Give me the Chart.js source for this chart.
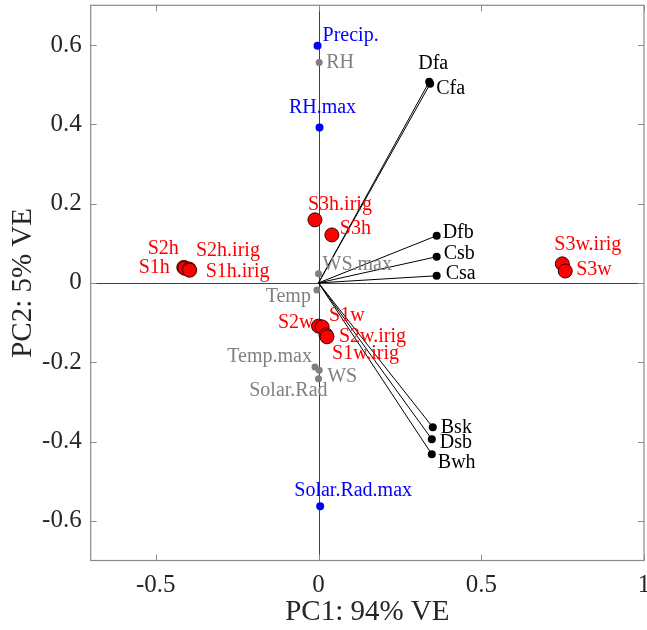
<!DOCTYPE html>
<html>
<head>
<meta charset="utf-8">
<script src="https://cdn.jsdelivr.net/npm/chart.js@4.4.1/dist/chart.umd.min.js"></script>
<style>
  html, body { margin: 0; padding: 0; background: #fff; }
  #wrap { width: 647px; height: 630px; }
</style>
</head>
<body>
<div id="wrap"><canvas id="pca"></canvas></div>
<script>
// tick values
var xTicks = [-0.5, 0, 0.5, 1];
var yTicks = [-0.6, -0.4, -0.2, 0, 0.2, 0.4, 0.6];

// scenarios (red)
var redNames = ['S3h.irig', 'S3h', 'S2h', 'S1h', 'S2h.irig', 'S1h.irig', 'S2w', 'S1w', 'S1w.irig', 'S2w.irig', 'S3w.irig', 'S3w'];
var redX = [-0.011, 0.041, -0.414, -0.411, -0.398, -0.396, 0.0, 0.011, 0.023, 0.026, 0.749, 0.758];
var redY = [0.159, 0.121, 0.039, 0.037, 0.035, 0.032, -0.109, -0.111, -0.131, -0.136, 0.048, 0.030];

// climate classes (black, with vectors)
var blackNames = ['Dfa', 'Cfa', 'Dfb', 'Csb', 'Csa', 'Bsk', 'Dsb', 'Bwh'];
var blackX = [0.340, 0.343, 0.363, 0.363, 0.363, 0.351, 0.348, 0.348];
var blackY = [0.507, 0.502, 0.119, 0.066, 0.018, -0.364, -0.394, -0.432];

// climate variables (gray)
var grayNames = ['RH', 'WS.max', 'Temp', 'Temp.max', 'WS', 'Solar.Rad'];
var grayX = [0.002, 0.0, -0.005, -0.011, 0.002, 0.0];
var grayY = [0.556, 0.023, -0.018, -0.212, -0.220, -0.242];

// climate variables (blue)
var blueNames = ['Precip.', 'RH.max', 'Solar.Rad.max'];
var blueX = [-0.003, 0.003, 0.005];
var blueY = [0.598, 0.392, -0.563];

// label placement: [align, dx, dy] in pixels
var labelPlace = {
    'Precip.': ['left', 5, -10], 'RH': ['left', 7, 0], 'RH.max': ['center', 3, -20],
    'Dfa': ['center', 4, -18], 'Cfa': ['left', 6, 5], 'Dfb': ['left', 6, -3],
    'Csb': ['left', 7, -3], 'Csa': ['left', 9, -2], 'WS.max': ['left', 4, -9],
    'Temp': ['right', -6, 7], 'S3h.irig': ['center', 25, -15], 'S3h': ['left', 8, -6],
    'S2h': ['right', -5, -19], 'S1h': ['right', -15, 0], 'S2h.irig': ['left', 7, -18],
    'S1h.irig': ['left', 16, 2], 'S2w': ['right', -5, -3], 'S1w': ['left', 7, -11],
    'S2w.irig': ['left', 12, 0], 'S1w.irig': ['left', 6, 19], 'Temp.max': ['right', -3, -10],
    'WS': ['left', 8, 7], 'Solar.Rad': ['right', 9, 12], 'Bsk': ['left', 8, 0],
    'Dsb': ['left', 8, 4], 'Bwh': ['left', 6, 9], 'Solar.Rad.max': ['center', 33, -15],
    'S3w.irig': ['left', -8, -19], 'S3w': ['left', 11, -1]
};

function pts(xs, ys) {
    return xs.map((x, i) => ({x: x, y: ys[i]}));
}

var datasets = [];
blackX.forEach((x, i) => {
    datasets.push({
        data: [{x: 0, y: 0}, {x: x, y: blackY[i]}],
        showLine: true,
        borderColor: '#000',
        borderWidth: 1,
        pointRadius: 0
    });
});
datasets.push({ names: grayNames, textColor: '#808080', data: pts(grayX, grayY),
    pointRadius: 3.5, backgroundColor: '#808080', borderColor: '#808080', borderWidth: 0 });
datasets.push({ names: blueNames, textColor: '#0000ff', data: pts(blueX, blueY),
    pointRadius: 4, backgroundColor: '#0000ff', borderColor: '#0000ff', borderWidth: 0 });
datasets.push({ names: blackNames, textColor: '#000', data: pts(blackX, blackY),
    pointRadius: 4, backgroundColor: '#000', borderColor: '#000', borderWidth: 0 });
datasets.push({ names: redNames, textColor: '#ff0000', data: pts(redX, redY),
    pointRadius: 7, backgroundColor: '#ff0000', borderColor: '#3a0000', borderWidth: 1 });

var frame = {
    id: 'frame',
    beforeDatasetsDraw(chart) {
        var ctx = chart.ctx, a = chart.chartArea,
            xs = chart.scales.x, ys = chart.scales.y;
        ctx.save();
        ctx.strokeStyle = '#404040';
        ctx.lineWidth = 1;
        ctx.beginPath();
        var x0 = Math.round(xs.getPixelForValue(0)) + 0.5,
            y0 = Math.round(ys.getPixelForValue(0)) + 0.5;
        ctx.moveTo(x0, a.top); ctx.lineTo(x0, a.bottom);
        ctx.moveTo(a.left, y0); ctx.lineTo(a.right, y0);
        ctx.stroke();
        ctx.restore();
    },
    afterDraw(chart) {
        var ctx = chart.ctx, a = chart.chartArea,
            xs = chart.scales.x, ys = chart.scales.y, t = 6;
        ctx.save();
        ctx.strokeStyle = '#8a8a8a';
        ctx.lineWidth = 1.2;
        ctx.strokeRect(a.left, a.top, a.right - a.left, a.bottom - a.top);
        ctx.lineWidth = 1;
        ctx.beginPath();
        xTicks.forEach((v) => {
            var px = Math.round(xs.getPixelForValue(v)) + 0.5;
            ctx.moveTo(px, a.bottom); ctx.lineTo(px, a.bottom - t);
            ctx.moveTo(px, a.top); ctx.lineTo(px, a.top + t);
        });
        yTicks.forEach((v) => {
            var py = Math.round(ys.getPixelForValue(v)) + 0.5;
            ctx.moveTo(a.left, py); ctx.lineTo(a.left + t, py);
            ctx.moveTo(a.right, py); ctx.lineTo(a.right - t, py);
        });
        ctx.stroke();

        // point labels
        ctx.font = '20px "Liberation Serif", "Times New Roman", serif';
        ctx.textBaseline = 'middle';
        chart.data.datasets.forEach((ds) => {
            if (!ds.names) return;
            ds.data.forEach((p, i) => {
                var name = ds.names[i], pl = labelPlace[name] || ['left', 6, 0];
                ctx.fillStyle = ds.textColor;
                ctx.textAlign = pl[0];
                ctx.fillText(name, xs.getPixelForValue(p.x) + pl[1], ys.getPixelForValue(p.y) + pl[2]);
            });
        });
        ctx.restore();
    }
};

var tickFont = { family: '"Liberation Serif", "Times New Roman", serif', size: 25 };
var titleFont = { family: '"Liberation Serif", "Times New Roman", serif', size: 29 };

new Chart(document.getElementById('pca'), {
    type: 'scatter',
    data: { datasets: datasets },
    options: {
        responsive: true,
        maintainAspectRatio: false,
        animation: false,
        layout: { autoPadding: false, padding: { top: 5.3, right: 3, left: 0, bottom: 0 } },
        plugins: { legend: { display: false }, tooltip: { enabled: false } },
        scales: {
            x: {
                min: -0.7, max: 1,
                afterBuildTicks: (s) => { s.ticks = xTicks.map((v) => ({value: v})); },
                afterFit: (s) => { s.height = 69.5; s.paddingLeft = 0; s.paddingRight = 0; },
                grid: { display: false, drawTicks: false },
                border: { display: false },
                ticks: { color: '#262626', font: tickFont, padding: 10,
                    callback: (v) => String(v) },
                title: { display: true, text: 'PC1: 94% VE', color: '#262626',
                    font: titleFont, padding: { top: 0, bottom: 0 } }
            },
            y: {
                min: -0.7, max: 0.7,
                afterBuildTicks: (s) => { s.ticks = yTicks.map((v) => ({value: v})); },
                afterFit: (s) => { s.width = 90.7; s.paddingTop = 0; s.paddingBottom = 0; },
                grid: { display: false, drawTicks: false },
                border: { display: false },
                ticks: { color: '#262626', font: tickFont, padding: 9,
                    callback: (v) => String(Math.round(v * 10) / 10) },
                title: { display: true, text: 'PC2: 5% VE', color: '#262626',
                    font: titleFont, padding: { top: 5.5, bottom: 0 } }
            }
        }
    },
    plugins: [frame]
});
</script>
</body>
</html>
